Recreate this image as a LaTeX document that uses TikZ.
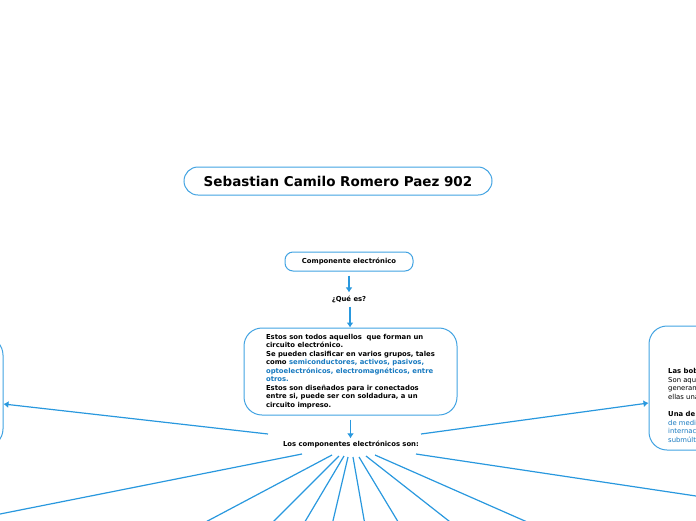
\documentclass[tikz,border=0pt]{standalone}
\usepackage{fontspec}
\setmainfont{DejaVu Sans}
\usetikzlibrary{arrows.meta, positioning}

\definecolor{mapblue}{RGB}{41,152,222}
\definecolor{boxblue}{RGB}{66,163,226}
\definecolor{txtblue}{RGB}{24,122,192}

\begin{document}
\begin{tikzpicture}[
    x=1pt, y=-1pt,
    >={Latex[length=5pt, width=7pt]},
    topic/.style={
        rectangle,
        draw=boxblue,
        line width=1pt,
        fill=white,
        inner sep=0pt
    },
    label/.style={
        inner sep=1pt,
        font=\fontsize{6.85}{8.5}\selectfont\bfseries
    },
    link/.style={
        mapblue,
        line width=1.2pt
    }
]

\useasboundingbox (0,0) rectangle (696,520);
\clip (0,0) rectangle (696,520);

% =============== TEMA CENTRAL ===============

\node[topic, rounded corners=14pt, minimum width=308pt, minimum height=28pt,
      font=\fontsize{13.5}{15}\selectfont\bfseries]
    (title) at (338,181) {Sebastian Camilo Romero Paez 902};

% =============== COMPONENTE ===============

\node[topic, rounded corners=8pt, minimum width=128pt, minimum height=19pt,
      font=\fontsize{6.85}{8}\selectfont\bfseries]
    (comp) at (349,261.5) {Componente electrónico};

\node[label] (que) at (349,299) {¿Qué es?};

\node[topic, rounded corners=18pt, minimum width=213pt, minimum height=87pt,
      align=left, font=\fontsize{6.85}{8.5}\selectfont\bfseries]
    (def) at (350.5,371.5) {%
        Estos son todos aquellos\ \ que forman un\\
        circuito electrónico.\\
        Se pueden clasificar en varios grupos, tales\\
        como \textcolor{txtblue}{semiconductores, activos, pasivos,}\\
        \textcolor{txtblue}{optoelectrónicos, electromagnéticos, entre}\\
        \textcolor{txtblue}{otros.}\\
        Estos son diseñados para ir conectados\\
        entre si, puede ser con soldadura, a un\\
        circuito impreso.};

\node[label] (son) at (351,444) {Los componentes electrónicos son:};

\draw[link, ->] ([yshift=-4pt]comp.south) -- ([yshift=2pt]que.north);
\draw[link, ->] ([shift={(1,3)}]que.south) -- ([xshift=1pt]que.south |- def.north);
\draw[link, ->] ([yshift=-4pt]def.south) -- ([yshift=1pt]def.south |- son.north);

% =============== RAMAS LATERALES ===============

% caja izquierda (casi fuera del cuadro)
\node[topic, rounded corners=18pt, minimum width=160pt, minimum height=110pt]
    (left) at (-77,392) {};

% caja derecha con su texto recortado
\node[topic, rounded corners=18pt, minimum width=180pt, minimum height=124pt]
    (bob) at (739,388) {};
\node[anchor=west, align=left, inner sep=0pt,
      font=\fontsize{6.85}{8.6}\selectfont]
    (bobtext) at (668,405.5) {%
        \textbf{Las bob}\\
        Son aqu\\
        generan\\
        ellas una\\[8.6pt]
        \textbf{Una de}\\
        \textcolor{txtblue}{de medi}\\
        \textcolor{txtblue}{internac}\\
        \textcolor{txtblue}{submúlt}};

\draw[link, ->] ([shift={(-83,-10)}]son.center) -- ([yshift=-12pt]left.east);
\draw[link, ->] ([shift={(70,-10)}]son.center) -- ([yshift=-15pt]bob.west);

% =============== TIPOS DE COMPONENTES ===============

\foreach \n/\dx/\dy/\ex/\ey in {
    1/-49/10/-10/516,
    2/-19/11/200/525,
    3/-12/12/270/525,
    4/-7/12/303/525,
    5/-3/13/332/525,
    6/2/13/365/525,
    7/8/13/400/525,
    8/15/12/454/525,
    9/24/11/534/525,
    10/65/10/706/497.5}{
    \coordinate (leaf\n) at (\ex,\ey);
    \draw[link] ([shift={(\dx,\dy)}]son.center) -- (leaf\n);
}

\end{tikzpicture}
\end{document}
